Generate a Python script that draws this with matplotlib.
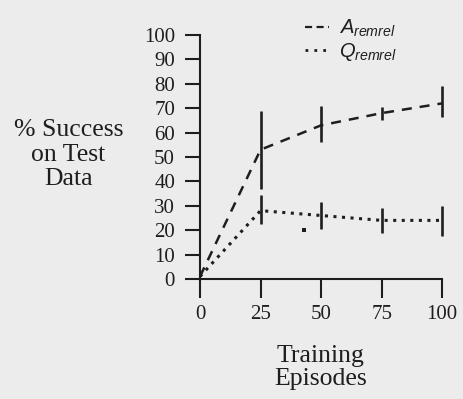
import numpy as np
import matplotlib
matplotlib.use("Agg")
import matplotlib.pyplot as plt
from matplotlib.lines import Line2D

# data
episodes = [0, 25, 50, 75, 100]
a_mean = [1, 53, 63, 68, 72]
a_lo = [1, 37, 56, 65, 66.5]
a_hi = [1, 69, 71, 70.5, 79]
q_mean = [1, 28, 26, 24, 24]
q_lo = [1, 22.5, 20.5, 19, 17.5]
q_hi = [1, 34.5, 31.5, 29, 30]
stray_x = [43]
stray_y = [20]
x_ticks = [0, 25, 50, 75, 100]
y_ticks = list(range(0, 101, 10))

plt.rcParams['font.family'] = ['Liberation Serif', 'DejaVu Serif']
plt.rcParams['mathtext.fontset'] = 'custom'
plt.rcParams['mathtext.it'] = 'Liberation Sans:italic'
plt.rcParams['mathtext.rm'] = 'Liberation Sans'

ink = '#1e1e1e'
paper = '#ececec'

fig = plt.figure(figsize=(4.63, 3.99), dpi=100, facecolor=paper)
ax = fig.add_axes([0.432, 0.301, 0.523, 0.611])
ax.set_facecolor(paper)

# mean curves
ax.plot(episodes, a_mean, color=ink, lw=1.8, dashes=(4, 3.2), clip_on=False)
ax.plot(episodes, q_mean, color=ink, lw=2.2, dashes=(1, 1.8), clip_on=False)
ax.plot(stray_x, stray_y, 's', color=ink, ms=2.2, mew=0)

# error bars (no caps)
ax.vlines(episodes[1:], a_lo[1:], a_hi[1:], color=ink, lw=1.9, clip_on=False)
ax.vlines(episodes[1:], q_lo[1:], q_hi[1:], color=ink, lw=1.9, clip_on=False)

ax.set_xlim(0, 100)
ax.set_ylim(0, 100)
for s in ['top', 'right']:
    ax.spines[s].set_visible(False)
for s in ['left', 'bottom']:
    ax.spines[s].set_color(ink)
    ax.spines[s].set_linewidth(1.5)

ax.set_xticks(x_ticks)
ax.set_yticks(y_ticks)
ax.tick_params(axis='x', direction='out', length=13.5, width=1.5, color=ink,
               labelsize=15, labelcolor=ink, pad=5)
ax.tick_params(axis='y', direction='out', length=11, width=1.5, color=ink,
               labelsize=15, labelcolor=ink, pad=7)

fig.text(0.148, 0.612, '% Success\non Test\nData', ha='center', va='center',
         fontsize=18.5, color=ink, linespacing=1.15)
fig.text(0.693, 0.08, 'Training\nEpisodes', ha='center', va='center',
         fontsize=18.5, color=ink, linespacing=1.05)

handles = [Line2D([], [], color=ink, lw=1.6, dashes=(3.2, 2)),
           Line2D([], [], color=ink, lw=2.0, dashes=(1, 2.2))]
fig.legend(handles, [r'$A_{remrel}$', r'$Q_{remrel}$'], loc='upper left',
           bbox_to_anchor=(0.619, 1.0), frameon=False, fontsize=14.5,
           handlelength=1.2, handletextpad=0.5, labelspacing=0.1,
           labelcolor=ink)

fig.savefig('out.png', dpi=100, facecolor=paper)
